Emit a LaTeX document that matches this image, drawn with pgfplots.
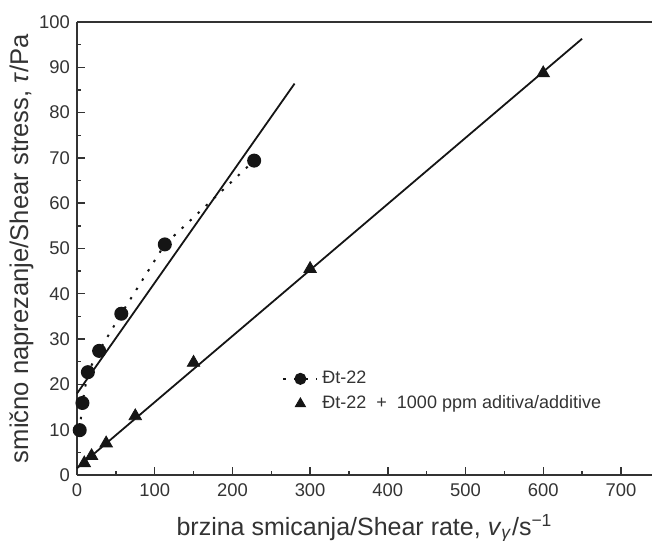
\documentclass[border=0pt]{standalone}
\usepackage{pgfplots}
\pgfplotsset{compat=1.18}
\usepackage{fontspec}
\setmainfont{Liberation Sans}
\usetikzlibrary{calc}
\definecolor{axgray}{HTML}{333333}
\definecolor{ink}{HTML}{151515}
\begin{document}
\begin{tikzpicture}
\begin{axis}[
  scale only axis,
  width=287.5pt, height=226.5pt,
  xmin=0, xmax=740, ymin=0, ymax=100,
  axis x line*=bottom, axis y line*=left,
  axis line style={-, line width=1pt, color=axgray},
  xtick={0,100,...,700}, ytick={0,10,...,100},
  minor x tick num=1, minor y tick num=1,
  tick align=inside,
  major tick length=4pt, minor tick length=2pt,
  tick style={line width=0.7pt, color=axgray},
  /pgf/number format/assume math mode=true,
  ticklabel style={font=\fontsize{9.2}{10}\selectfont, color=axgray},
  xticklabel style={yshift=-1pt},
  xlabel={brzina smicanja/Shear rate, \textit{v}\textsubscript{\textit{γ}}/s\textsuperscript{−1}},
  ylabel={smično naprezanje/Shear stress, \textit{τ}/Pa},
  xlabel style={font=\fontsize{12.5}{14}\selectfont, color=axgray, yshift=-1.8pt},
  ylabel style={font=\fontsize{12.8}{14}\selectfont, color=axgray, yshift=-4pt},
  legend style={draw=none, fill=none, at={(axis cs:256,24.8)}, anchor=north west,
    font=\fontsize{9}{10}\selectfont, row sep=0.6pt, text=axgray},
  legend cell align=left,
  clip=false,
]
% fit lines
\addplot[ink, line width=0.9pt, forget plot] coordinates {(0,18) (280,86.4)};
\addplot[ink, line width=0.9pt, forget plot] coordinates {(0,1.5) (650,96.3)};
% data
\addplot[ink, line width=1pt, dash pattern=on 1.2pt off 4.3pt, mark=*, mark size=3pt,
  mark options={solid, fill=ink, draw=ink},
  legend image post style={mark size=2.5pt}] coordinates {
  (3.5,9.9) (7,15.9) (14,22.7) (28.5,27.4) (57,35.6) (113,50.9) (228,69.4)};
\addlegendentry{Đt-22}
\addplot[only marks, mark=triangle*, mark size=3.6pt, mark options={fill=ink, draw=ink},
  legend image post style={mark size=3pt}] coordinates {
  (9.4,2.6) (18.75,4.2) (37.5,7) (75,13) (150,24.8) (300,45.5) (600,88.7)};
\addlegendentry{Đt-22\ \ +\ \ 1000 ppm aditiva/additive}
\end{axis}
\draw[line width=1pt, color=axgray] (current axis.north west) -- (current axis.north east);
\pgfresetboundingbox
\path ($(current axis.south west)+(-38.5pt,-32.5pt)$) rectangle ($(current axis.north east)+(0pt,11pt)$);
\end{tikzpicture}
\end{document}
